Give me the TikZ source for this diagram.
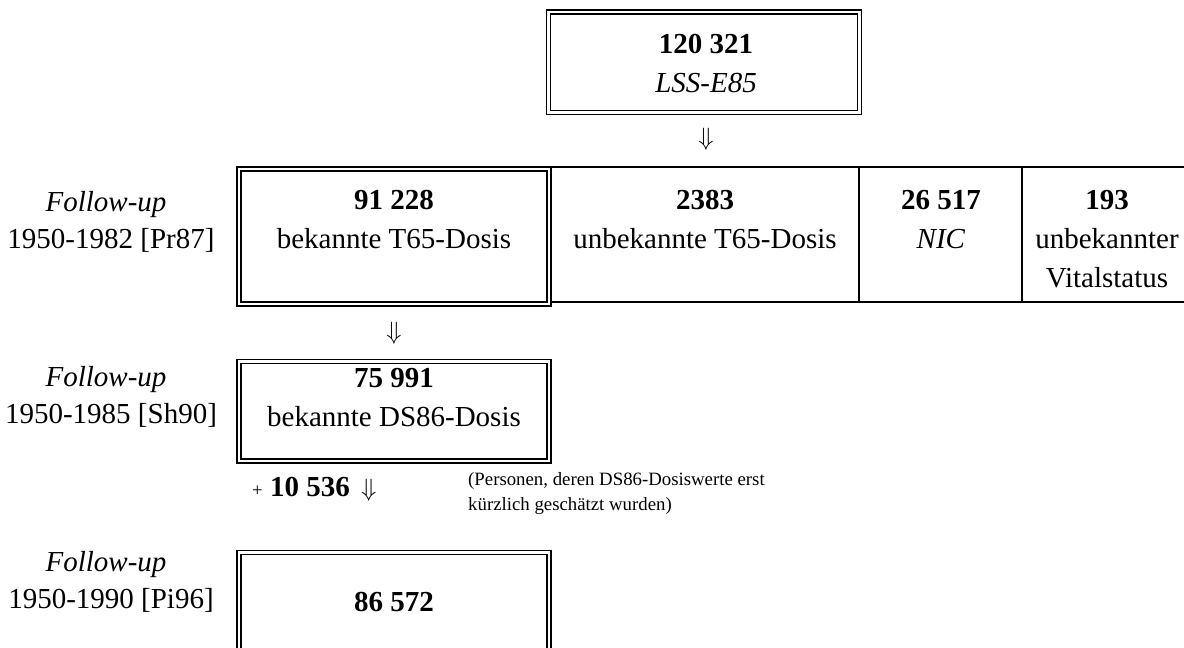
\documentclass[tikz,border=0pt]{standalone}
\usepackage{fontspec}
\setmainfont{Liberation Serif}
\newcommand{\bigdn}{{\fontsize{10}{10}\selectfont\scalebox{2.5}{$\Downarrow$}}}
\begin{document}
\begin{tikzpicture}[x=1pt,y=-1pt,
  dbl/.style={draw, line width=1.3pt, double, double distance=2.6pt, inner sep=0pt},
  txt/.style={align=center, font=\fontsize{29}{39}\selectfont, inner sep=0pt},
  lab/.style={align=center, font=\fontsize{29}{37}\selectfont, inner sep=0pt},
  note/.style={align=left, font=\fontsize{18.8}{25}\selectfont, inner sep=0pt, anchor=west},
  rule/.style={line width=1.3pt}]
\useasboundingbox (0,0) rectangle (1184,648);
\clip (0,0) rectangle (1184,648);

% boxes
\node[dbl, minimum width=311.5pt, minimum height=100.5pt] (boxA) at (704,62.2) {};
\node[dbl, minimum width=310pt, minimum height=135pt] (boxB) at (394,236.5) {};
\node[dbl, minimum width=310pt, minimum height=99.5pt] (boxC) at (394,411.2) {};
\node[dbl, minimum width=310pt, minimum height=150pt] (boxD) at (394,627.5) {};

% table row lines
\coordinate (rtl) at (551,167);
\coordinate (rtr) at (1190,167);
\coordinate (rbl) at (551,302);
\coordinate (rbr) at (1190,302);
\coordinate (d1t) at (859,166);
\coordinate (d1b) at (859,302);
\coordinate (d2t) at (1022,166);
\coordinate (d2b) at (1022,302);
\draw[rule] (rtl) -- (rtr);
\draw[rule] (rbl) -- (rbr);
\draw[rule] (d1t) -- (d1b);
\draw[rule] (d2t) -- (d2b);

% texts
\node[txt] (tA) at (706,63.5) {\textbf{120 321}\\\textit{LSS-E85}};
\node[txt] (c1) at (394,219.5) {\textbf{91 228}\\bekannte T65-Dosis};
\node[txt] (c2) at (705,219.5) {\textbf{2383}\\unbekannte T65-Dosis};
\node[txt] (c3) at (941,219.5) {\textbf{26 517}\\\textit{NIC}};
\node[txt] (c4) at (1107,239) {\textbf{193}\\unbekannter\\Vitalstatus};
\node[txt] (tC) at (394,398) {\textbf{75 991}\\bekannte DS86-Dosis};
\node[txt] (tD) at (394,602) {\textbf{86 572}};

% arrows
\node[inner sep=0pt] (a1) at (706,139) {\bigdn};
\node[inner sep=0pt] (a2) at (394,333) {\bigdn};
\node[txt, anchor=west] (a3) at (252,489) {{\fontsize{18.8}{20}\selectfont +} \textbf{10 536}\hspace{4pt} \bigdn};
\node[note] (n1) at (468,494) {(Personen, deren DS86-Dosiswerte erst\\kürzlich geschätzt wurden)};

% left labels
\node[lab] (l1) at (111,222) {\textit{Follow-up}\hspace*{10pt}\\1950-1982 [Pr87]};
\node[lab] (l2) at (111,397) {\textit{Follow-up}\hspace*{10pt}\\1950-1985 [Sh90]};
\node[lab] (l3) at (111,581.5) {\textit{Follow-up}\hspace*{10pt}\\1950-1990 [Pi96]};
\end{tikzpicture}
\end{document}
